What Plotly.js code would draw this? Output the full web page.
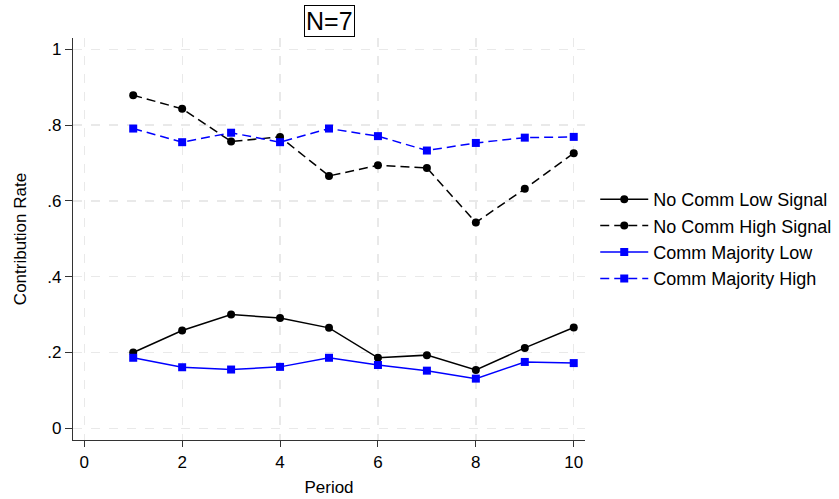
<!DOCTYPE html>
<html>
<head>
<meta charset="utf-8">
<script src="https://cdn.plot.ly/plotly-3.0.1.min.js"></script>
<style>html,body{margin:0;padding:0;background:#fff;}#chart{width:839px;height:499px;}</style>
</head>
<body>
<div id="chart"></div>
<script>
const periods = [1, 2, 3, 4, 5, 6, 7, 8, 9, 10];
const noCommLow = [0.200, 0.258, 0.300, 0.291, 0.265, 0.186, 0.193, 0.154, 0.212, 0.266];
const noCommHigh = [0.879, 0.843, 0.757, 0.769, 0.666, 0.694, 0.687, 0.543, 0.632, 0.726];
const commMajLow = [0.186, 0.161, 0.155, 0.162, 0.186, 0.167, 0.152, 0.131, 0.175, 0.172];
const commMajHigh = [0.791, 0.755, 0.780, 0.755, 0.791, 0.771, 0.733, 0.753, 0.767, 0.769];
const seriesNames = ["No Comm Low Signal", "No Comm High Signal", "Comm Majority Low", "Comm Majority High"];
const xTicks = [0, 2, 4, 6, 8, 10];
const yTicks = [0, 0.2, 0.4, 0.6, 0.8, 1];
const yTickText = ["0", ".2", ".4", ".6", ".8", "1"];
const titleText = "N=7";

const dashPat = "9px,5px";
const traces = [
  {x: periods, y: noCommLow, name: seriesNames[0], legendgroup: "a", mode: "lines+markers",
   line: {color: "#000000", width: 1.5}, marker: {symbol: "circle", size: 8, color: "#000000"}},
  {x: periods, y: noCommHigh, name: seriesNames[1], legendgroup: "b", mode: "lines+markers",
   line: {color: "#000000", width: 1.5, dash: dashPat}, marker: {symbol: "circle", size: 8, color: "#000000"}},
  {x: periods, y: commMajLow, name: seriesNames[2], legendgroup: "c", mode: "lines+markers",
   line: {color: "#0000ff", width: 1.5}, marker: {symbol: "square", size: 8, color: "#0000ff"}},
  {x: periods, y: commMajHigh, name: seriesNames[3], legendgroup: "d", mode: "lines+markers",
   line: {color: "#0000ff", width: 1.5, dash: dashPat}, marker: {symbol: "square", size: 8, color: "#0000ff"}}
];

const layout = {
  width: 839, height: 499,
  margin: {l: 73, r: 254, t: 38, b: 59, autoexpand: false},
  paper_bgcolor: "#ffffff", plot_bgcolor: "#ffffff",
  font: {family: "Liberation Sans, Arial, sans-serif", size: 17, color: "#000000"},
  showlegend: true,
  legend: {x: 1.02, xanchor: "left", y: 0.5, yanchor: "middle", traceorder: "grouped",
           tracegroupgap: 0, itemwidth: 48, font: {size: 18}, bgcolor: "rgba(0,0,0,0)"},
  xaxis: {range: [-0.23, 10.23], tickvals: xTicks, ticktext: xTicks.map(String), automargin: false,
          showline: true, linecolor: "#333333", linewidth: 1.2, ticks: "outside", ticklen: 6,
          tickcolor: "#333333", showgrid: true, gridcolor: "#e9e9e9", griddash: "dash", gridwidth: 1.3,
          zeroline: false, title: {text: "Period", font: {size: 17}, standoff: 10},
          tickfont: {size: 17}},
  yaxis: {range: [-0.031, 1.03], tickvals: yTicks, ticktext: yTickText, automargin: false,
          showline: true, linecolor: "#333333", linewidth: 1.2, ticks: "outside", ticklen: 7,
          tickcolor: "#333333", showgrid: true, gridcolor: "#e9e9e9", griddash: "dash", gridwidth: 1.3,
          zeroline: false, title: {text: "Contribution Rate", font: {size: 17}, standoff: 16},
          tickfont: {size: 17}},
  annotations: [{text: titleText, xref: "paper", yref: "paper", x: 0.5, y: 1, yanchor: "bottom",
                 xanchor: "center", yshift: 1, showarrow: false, font: {size: 25, color: "#000000"},
                 bordercolor: "#000000", borderwidth: 1, borderpad: 1, bgcolor: "#ffffff"}]
};

Plotly.newPlot("chart", traces, layout, {displayModeBar: false, staticPlot: true});
</script>
</body>
</html>
